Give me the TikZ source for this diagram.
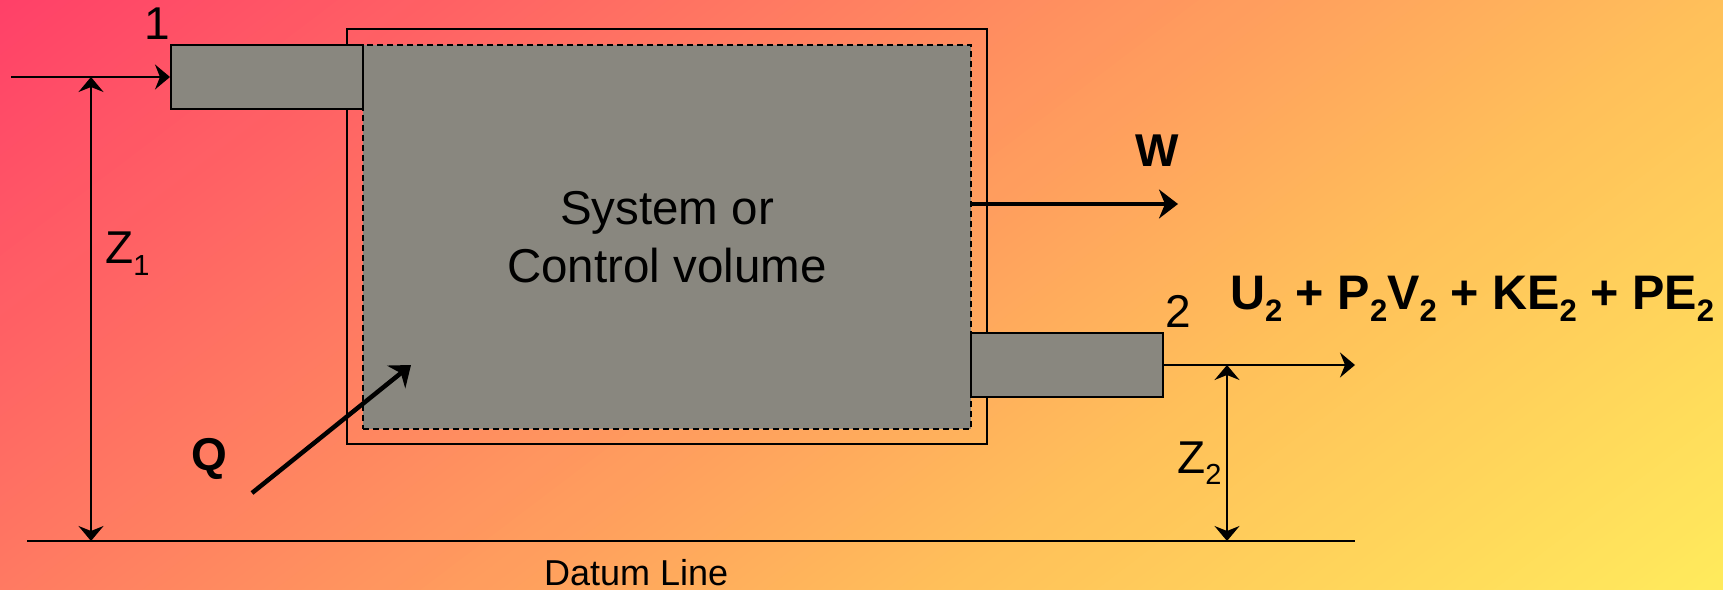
\documentclass[tikz,border=0pt]{standalone}
\usepackage{fontspec}
\usepackage{graphicx}
\setmainfont{Liberation Sans}
\usetikzlibrary{arrows.meta}

\definecolor{pipegray}{RGB}{137,135,127}

% lowered subscript: size, drop, text
\newcommand\dsub[3]{\raisebox{-#2}{\fontsize{#1}{#1}\selectfont #3}}

\tikzset{
  lbl/.style={inner sep=0pt, font=\fontsize{46bp}{55bp}\selectfont},
  boldlbl/.style={inner sep=0pt, font=\fontsize{46bp}{55bp}\selectfont\bfseries},
  cvlbl/.style={inner sep=0pt, font=\fontsize{47.5bp}{57bp}\selectfont},
  pipe/.style={draw=black, line width=2bp, fill=pipegray, inner sep=0pt,
    minimum width=192bp, minimum height=64bp},
  cvbox/.style={draw=black, line width=2bp, dash pattern=on 6bp off 4bp,
    fill=pipegray, inner sep=0pt, minimum width=608bp, minimum height=384bp},
  sysbox/.style={draw=black, line width=2bp, inner sep=0pt,
    minimum width=640bp, minimum height=415bp},
  thinarrow/.style={line width=2bp, -{Stealth[length=15bp,width=25bp,inset=5bp]}},
  dimarrow/.style={line width=2bp,
    {Stealth[length=15bp,width=25bp,inset=5bp]}-{Stealth[length=15bp,width=25bp,inset=5bp]}},
  thickarrow/.style={line width=4.5bp, -{Stealth[length=19bp,width=29bp,inset=6bp]}},
  plainline/.style={line width=2bp}
}

\begin{document}
\begin{tikzpicture}[x=1bp, y=-1bp]
  \useasboundingbox (0,0) rectangle (1723,590);
  % background: diagonal gradient built from thin bands across the axis
  \begin{scope}
    \clip (0,0) rectangle (1723,590);
    \foreach \i in {0,...,195} {
      \pgfmathsetmacro\ta{-20+8*\i}
      \pgfmathsetmacro\tb{\ta+9}
      \pgfmathsetmacro\tm{\ta+4}
      \pgfmathsetmacro\ua{max(0,min(1,\tm/1041))}
      \pgfmathsetmacro\ub{max(0,min(1,(\tm-1041)/470))}
      \pgfmathsetmacro\gg{(64+128*\ua+43*\ub)/255}
      \pgfmathsetmacro\bb{(104-14*\ua+2*\ub)/255}
      \definecolor{bandc}{rgb}{1,\gg,\bb}
      \fill[bandc] ({0.604*\ta+1195.5},{0.797*\ta-906}) -- ({0.604*\tb+1195.5},{0.797*\tb-906})
        -- ({0.604*\tb-398.5},{0.797*\tb+302}) -- ({0.604*\ta-398.5},{0.797*\ta+302}) -- cycle;
    }
  \end{scope}

  % system boundary, control volume and the two pipes
  \node[sysbox] (sys) at (667,236.5) {};
  \node[cvbox] (cv) at (667,237) {};
  \node[pipe] (inlet) at (267,77) {};
  \node[pipe] (outlet) at (1067,365) {};

  % free ends of the connectors
  \coordinate (inA) at (11,77);
  \coordinate (outB) at (1355,365);
  \coordinate (datL) at (27,541);
  \coordinate (datR) at (1355,541);
  \coordinate (z1top) at (91,77);
  \coordinate (z1bot) at (91,541);
  \coordinate (z2top) at (1227,365);
  \coordinate (z2bot) at (1227,541);
  \coordinate (wA) at (971,204);
  \coordinate (wB) at (1178,204);
  \coordinate (qA) at (252,493);
  \coordinate (qB) at (411,365);

  % datum line and flows
  \draw[plainline] (datL) -- (datR);
  \draw[thinarrow] (inA) -- (inlet.west);
  \draw[thinarrow] (outlet.east) -- (outB);
  \draw[dimarrow] (z1top) -- (z1bot);
  \draw[dimarrow] (z2top) -- (z2bot);
  \draw[thickarrow] (wA) -- (wB);
  \draw[thickarrow] (qA) -- (qB);

  % labels
  \node[lbl, anchor=base] (n1) at (157,40) {1};
  \node[lbl, anchor=base] (n2) at (1178,327) {2};
  \node[lbl, anchor=base west] (z1l) at (105,263) {Z\dsub{29bp}{12bp}{1}};
  \node[lbl, anchor=base west] (z2l) at (1177,473) {Z\dsub{29bp}{11bp}{2}};
  \node[boldlbl, anchor=base] (wl) at (1157,167) {W};
  \node[boldlbl, anchor=base] (ql) at (209,470) {Q};
  \node[cvlbl, anchor=base] (cvt1) at (667,225) {System or};
  \node[cvlbl, anchor=base] (cvt2) at (667,282) {Control volume};
  \node[inner sep=0pt, anchor=base west, font=\fontsize{36bp}{40bp}\selectfont]
    (datum) at (544,585) {Datum Line};
  \node[inner sep=0pt, anchor=base west, font=\fontsize{48.5bp}{55bp}\selectfont\bfseries]
    (energy) at (1230,309)
    {U\dsub{31bp}{12bp}{2} + P\dsub{31bp}{12bp}{2}V\dsub{31bp}{12bp}{2} + KE\dsub{31bp}{12bp}{2} + PE\dsub{31bp}{12bp}{2}};
\end{tikzpicture}
\end{document}
